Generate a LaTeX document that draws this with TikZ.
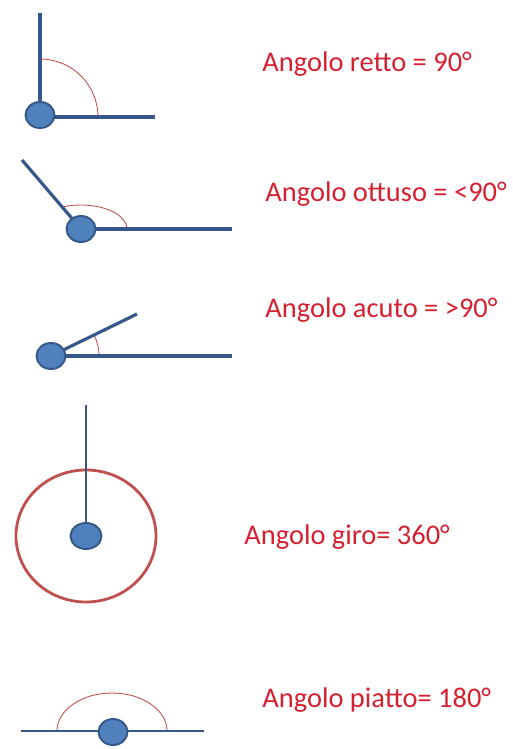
\documentclass[tikz,border=0pt]{standalone}
\usepackage{fontspec}
\setmainfont{Carlito}
\usepackage{tikz}
\usetikzlibrary{shapes.geometric}
\definecolor{angline}{HTML}{36578A}
\definecolor{angdot}{HTML}{4F81BD}
\definecolor{angarc}{HTML}{C0504D}
\definecolor{angtext}{HTML}{D42030}

\begin{document}
\begin{tikzpicture}[x=0.02cm,y=0.02cm,
  dot/.style={ellipse,draw=angline,line width=1.1pt,fill=angdot,minimum width=0.58cm,minimum height=0.52cm,inner sep=0pt},
  ray/.style={draw=angline,line width=1.8pt},
  thinray/.style={draw=angline,line width=0.7pt},
  arcr/.style={draw=angarc,line width=0.5pt},
  lab/.style={anchor=base west,inner sep=0pt,text=angtext,font=\fontsize{16.2}{19}\selectfont}]

  \useasboundingbox (0,0) rectangle (512,-749);

  % Angolo retto
  \coordinate (v1) at (40,-117);
  \coordinate (r1a) at (40,-13);
  \coordinate (r1b) at (155,-117);
  \draw[arcr] ([shift={(0:58)}]v1) arc[start angle=0,end angle=90,radius=58];
  \draw[ray] (v1) -- (r1a);
  \draw[ray] (v1) -- (r1b);
  \node[dot] (d1) at (40,-115) {};
  \node[lab] (t1) at (262,-72) {Angolo retto = 90°};

  % Angolo ottuso
  \coordinate (v2) at (81,-229);
  \coordinate (r2a) at (22,-160);
  \coordinate (r2b) at (232,-229);
  \draw[arcr] ([shift={(0:46)}]v2) arc[start angle=0,end angle=112,x radius=46,y radius=24];
  \draw[ray] (v2) -- (r2a);
  \draw[ray] (v2) -- (r2b);
  \node[dot] (d2) at (v2) {};
  \node[lab] (t2) at (265,-202) {Angolo ottuso = <90°};

  % Angolo acuto
  \coordinate (v3) at (51,-356);
  \coordinate (r3a) at (137,-314);
  \coordinate (r3b) at (232,-356);
  \draw[arcr] ([shift={(0:48)}]v3) arc[start angle=0,end angle=26,radius=48];
  \draw[ray] (v3) -- (r3a);
  \draw[ray] (v3) -- (r3b);
  \node[dot] (d3) at (v3) {};
  \node[lab] (t3) at (265,-317) {Angolo acuto = >90°};

  % Angolo giro
  \coordinate (v4) at (86,-536);
  \coordinate (r4a) at (86,-405);
  \draw[angarc,line width=1.6pt] (v4) ellipse[x radius=70,y radius=66];
  \draw[thinray] (v4) -- (r4a);
  \node[dot,minimum width=0.62cm] (d4) at (v4) {};
  \node[lab] (t4) at (244,-544) {Angolo giro= 360°};

  % Angolo piatto
  \coordinate (v5) at (112,-731);
  \coordinate (r5a) at (21,-731);
  \coordinate (r5b) at (204,-731);
  \draw[arcr] ([shift={(0:55)}]v5) arc[start angle=0,end angle=180,x radius=55,y radius=38];
  \draw[thinray] (r5a) -- (r5b);
  \node[dot] (d5) at (113,-732) {};
  \node[lab] (t5) at (262,-707) {Angolo piatto= 180°};

\end{tikzpicture}
\end{document}
